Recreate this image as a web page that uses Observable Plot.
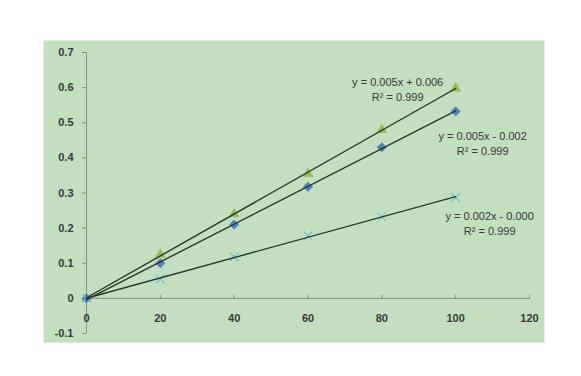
<!DOCTYPE html>
<html><head><meta charset="utf-8">
<script src="https://cdn.jsdelivr.net/npm/d3@7"></script>
<script src="https://cdn.jsdelivr.net/npm/@observablehq/plot@0.6"></script>
<style>body{margin:0;background:#fff;font-family:"Liberation Sans",Arial,sans-serif}</style>
</head><body><div id="chart"></div>
<script>
const xValues = [0, 20, 40, 60, 80, 100];
const triangleValues = [0, 0.125, 0.24, 0.355, 0.48, 0.598];
const diamondValues = [0, 0.10, 0.21, 0.318, 0.43, 0.533];
const crossValues = [0, 0.055, 0.118, 0.178, 0.232, 0.287];
const xTicks = [0, 20, 40, 60, 80, 100, 120];
const yTicks = [-0.1, 0, 0.1, 0.2, 0.3, 0.4, 0.5, 0.6, 0.7];
const equations = ["y = 0.005x + 0.006\nR\u00b2 = 0.999", "y = 0.005x - 0.002\nR\u00b2 = 0.999", "y = 0.002x - 0.000\nR\u00b2 = 0.999"];

const tri = xValues.map((x, i) => ({x, y: triangleValues[i]}));
const dia = xValues.map((x, i) => ({x, y: diamondValues[i]}));
const crs = xValues.map((x, i) => ({x, y: crossValues[i]}));
const last = i => ({x: xValues[xValues.length - 1], y: [triangleValues, diamondValues, crossValues][i][xValues.length - 1], t: equations[i]});

const lineColor = "#2c352a";
const txt = "#383838";
const chart = Plot.plot({
  width: 581, height: 376,
  marginLeft: 86, marginRight: 52, marginTop: 52, marginBottom: 43,
  style: {background: "transparent", fontFamily: "Liberation Sans, Arial, sans-serif", fontSize: "11px"},
  x: {type: "linear", domain: [0, 120], axis: null},
  y: {type: "linear", domain: [-0.1, 0.7], axis: null},
  marks: [
    Plot.frame({fill: "#c4dfc0", stroke: "none", insetLeft: -43, insetRight: -15, insetTop: -12, insetBottom: -9}),
    Plot.ruleX([0], {y1: yTicks[0], y2: yTicks[yTicks.length - 1], stroke: "#8a8a8a"}),
    Plot.ruleY([0], {x1: xTicks[0], x2: xTicks[xTicks.length - 1], stroke: "#8a8a8a"}),
    Plot.ruleY(yTicks, {y: d => d, x1: 0, x2: 0, insetLeft: -4, stroke: "#8a8a8a"}),
    Plot.ruleX(xTicks, {x: d => d, y1: 0, y2: 0, insetTop: -3, insetBottom: -1, stroke: "#8a8a8a"}),
    Plot.text(yTicks, {y: d => d, x: 0, text: d => String(d), textAnchor: "end", dx: -13, fill: txt, fontWeight: "bold", fontSize: 11}),
    Plot.text(xTicks, {x: d => d, y: 0, text: d => String(d), dy: 20, fill: txt, fontWeight: "bold", fontSize: 11}),
    Plot.dot(tri, {x: "x", y: "y", symbol: "triangle", fill: "#9bbb59", r: 4}),
    Plot.dot(dia, {x: "x", y: "y", symbol: "diamond2", fill: "#4f81bd", r: 4.5}),
    Plot.dot(crs, {x: "x", y: "y", symbol: "times", stroke: "#6cc0d8", r: 4, strokeWidth: 1.2}),
    Plot.linearRegressionY(tri, {x: "x", y: "y", ci: 0, stroke: lineColor, strokeWidth: 1.4}),
    Plot.linearRegressionY(dia, {x: "x", y: "y", ci: 0, stroke: lineColor, strokeWidth: 1.4}),
    Plot.linearRegressionY(crs, {x: "x", y: "y", ci: 0, stroke: lineColor, strokeWidth: 1.4}),
    Plot.text([last(0)], {x: "x", y: "y", text: "t", dx: -58, dy: 0, lineHeight: 1.36, fill: txt, fontSize: 11}),
    Plot.text([last(1)], {x: "x", y: "y", text: "t", dx: 27, dy: 32, lineHeight: 1.36, fill: txt, fontSize: 11}),
    Plot.text([last(2)], {x: "x", y: "y", text: "t", dx: 34, dy: 25, lineHeight: 1.36, fill: txt, fontSize: 11})
  ]
});
document.getElementById("chart").append(chart);
</script></body></html>
